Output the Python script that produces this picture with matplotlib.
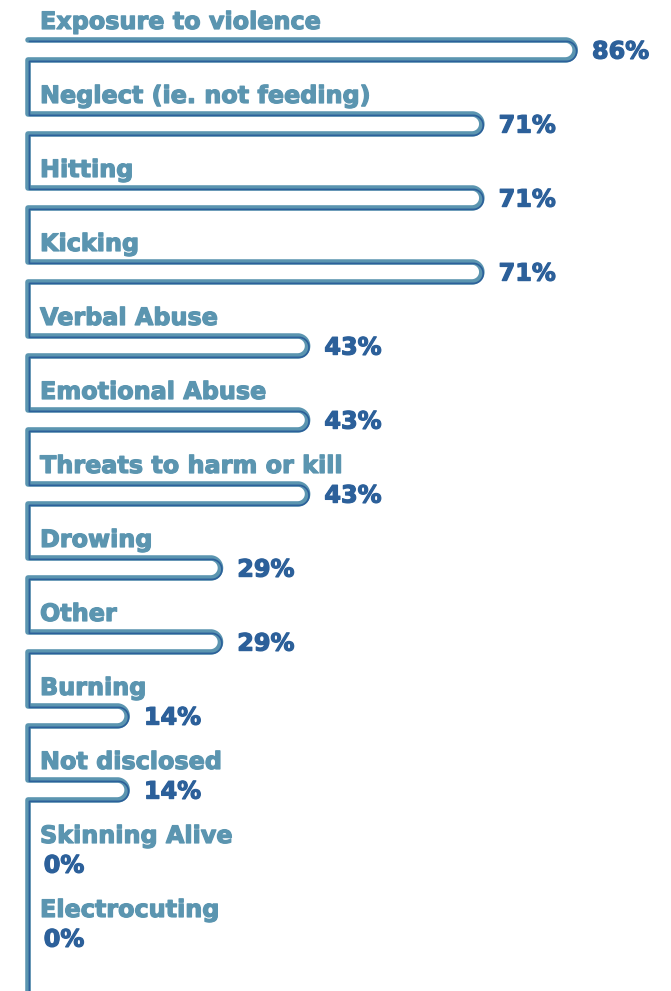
# Serpentine bar chart - forms of animal abuse
import numpy as np
import matplotlib.pyplot as plt
import matplotlib.patheffects as pe

# Data
categories = ['Exposure to violence', 'Neglect (ie. not feeding)', 'Hitting', 'Kicking',
              'Verbal Abuse', 'Emotional Abuse', 'Threats to harm or kill', 'Drowing',
              'Other', 'Burning', 'Not disclosed', 'Skinning Alive', 'Electrocuting']
values = [86, 71, 71, 71, 43, 43, 43, 29, 29, 14, 14, 0, 0]
value_labels = ['86%', '71%', '71%', '71%', '43%', '43%', '43%', '29%', '29%',
                '14%', '14%', '0%', '0%']

teal = '#5b95b0'
dark = '#2c609a'

fig = plt.figure(figsize=(6.71, 9.91), dpi=100)
ax = fig.add_axes([0, 0, 1, 1])
ax.set_xlim(-6.43, 101.4)
ax.set_ylim(13.095, -0.297)
ax.axis('off')

# pixels per data unit, used to keep the end caps round
px_x = 671 / (101.4 + 6.43)
px_y = 991 / (13.095 + 0.297)
rx = 10 / px_x
ry = 10 / px_y
x_left = -12 / px_x
top_off = 18 / px_y
bot_off = 38 / px_y

# build the continuous snake path
xs, ys = [], []
last = max(i for i, v in enumerate(values) if v > 0)
for i, v in enumerate(values[:last + 1]):
    top = i + top_off
    bot = i + bot_off
    xs += [x_left, v - rx]
    ys += [top, top]
    t = np.linspace(-np.pi / 2, np.pi / 2, 30)
    xs += list(v - rx + rx * np.cos(t))
    ys += list((top + bot) / 2 + ry * np.sin(t))
    xs += [v - rx, x_left]
    ys += [bot, bot]
xs.append(x_left)
ys.append(13.2)
xs = np.array(xs)
ys = np.array(ys)

# sketchy double stroke: wide teal + thin dark blue slightly offset
ax.plot(xs, ys, color=teal, lw=4.0, solid_capstyle='round', solid_joinstyle='round', zorder=1)
ax.plot(xs + 1.4 / px_x, ys + 1.4 / px_y, color=dark, lw=1.2,
        solid_capstyle='round', solid_joinstyle='round', zorder=2)

fx = [pe.withStroke(linewidth=0.9, foreground=teal)]
fx2 = [pe.withStroke(linewidth=0.9, foreground=dark)]
for i, (cat, v, lab) in enumerate(zip(categories, values, value_labels)):
    ax.text(0, i, cat, color=teal, fontsize=17.2, fontweight='bold',
            ha='left', va='center', family='DejaVu Sans', path_effects=fx)
    ax.text(v + 2.7 if v > 0 else 0.6, i + 0.4, lab, color=dark, fontsize=17.2,
            fontweight='bold', ha='left', va='center', family='DejaVu Sans', path_effects=fx2)

plt.savefig('out.png', dpi=100)
